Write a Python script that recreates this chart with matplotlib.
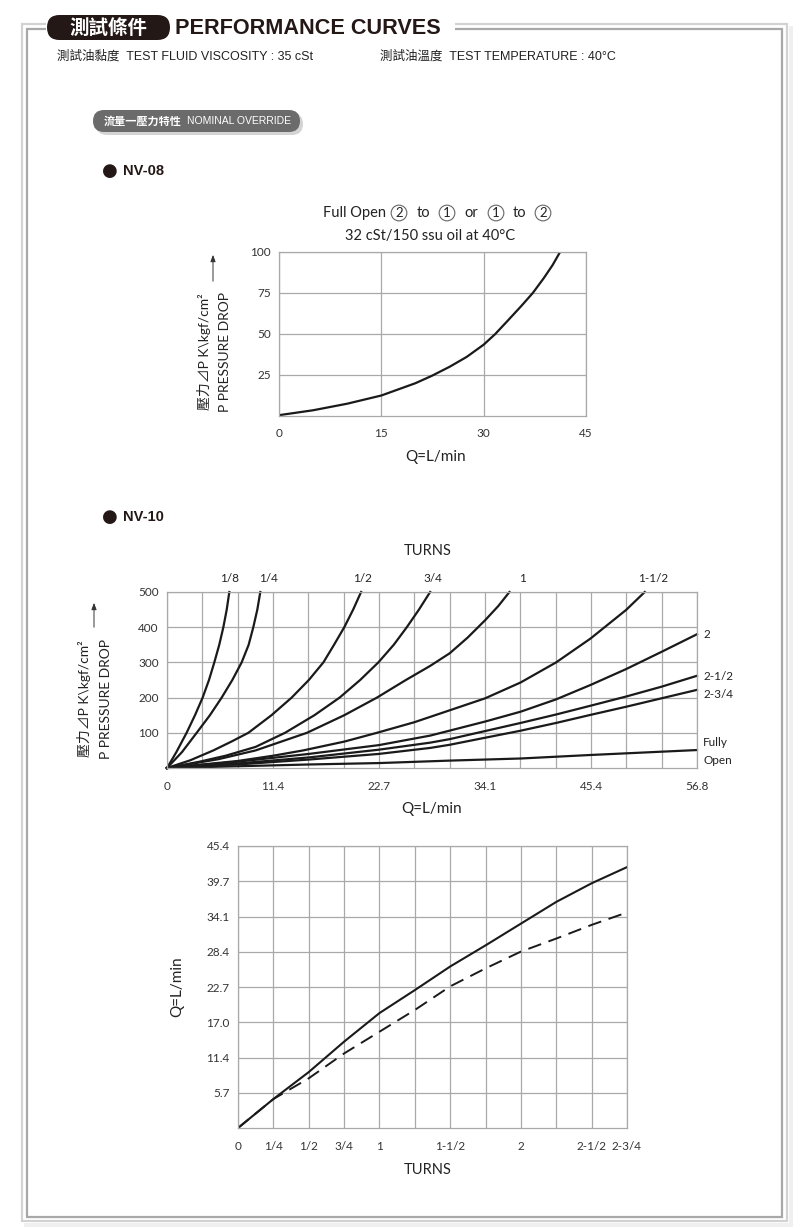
import numpy as np
import matplotlib
matplotlib.use("Agg")
import matplotlib.pyplot as plt
from matplotlib.patches import FancyBboxPatch, Rectangle

OUTPUT_IMAGE = "out.png"

# ---- NV-08 : pressure drop vs flow, full open ----
nv08_q = [0, 5, 10, 15, 20, 22.4, 25, 27.5, 30, 31.7, 33.5, 35.5, 37.2, 38.8, 40.1, 41.2]
nv08_p = [0.5, 3.5, 7.5, 12.5, 20, 24.5, 30, 36, 43.5, 50, 58, 67, 75, 84, 92, 100]
nv08_xticks = [0, 15, 30, 45]
nv08_yticks = [25, 50, 75, 100]

# ---- NV-10 : pressure drop vs flow at several turns ----
nv10_turns = ["1/8", "1/4", "1/2", "3/4", "1", "1-1/2", "2", "2-1/2", "2-3/4", "Fully Open"]
nv10_q = {
    "1/8": [0, 1.0, 2.1, 3.0, 3.82, 4.5, 5.07, 5.6, 6.04, 6.4, 6.68],
    "1/4": [0, 1.6, 3.18, 4.6, 5.86, 7.0, 8.0, 8.75, 9.25, 9.68, 10.0],
    "1/2": [0, 2.5, 4.97, 6.9, 8.72, 11.2, 13.36, 15.2, 16.76, 17.9, 19.0, 19.95, 20.8],
    "3/4": [0, 3.5, 6.3, 9.5, 12.65, 15.8, 18.5, 20.7, 22.65, 24.3, 25.7, 27.0, 28.2],
    "1": [0, 5.5, 9.5, 15.0, 19.0, 22.5, 25.6, 28.2, 30.3, 32.2, 34.1, 35.5, 36.7],
    "1-1/2": [0, 7.6, 11.4, 14.6, 19.0, 22.5, 26.5, 29.3, 34.1, 37.9, 41.7, 45.4, 49.2, 51.2],
    "2": [0, 7.6, 15.2, 22.7, 28.2, 34.1, 37.9, 41.7, 45.4, 49.2, 53.0, 56.8],
    "2-1/2": [0, 7.6, 15.2, 22.7, 28.2, 30.3, 34.1, 37.9, 41.7, 45.4, 49.2, 53.0, 56.8],
    "2-3/4": [0, 7.6, 15.2, 22.7, 28.2, 30.3, 34.1, 37.9, 41.7, 45.4, 49.2, 53.0, 56.8],
    "Fully Open": [0, 7.6, 15.2, 22.7, 30.3, 37.9, 45.4, 56.8],
}
nv10_p = {
    "1/8": [0, 45, 100, 150, 200, 250, 300, 350, 400, 450, 500],
    "1/4": [0, 45, 100, 150, 200, 250, 300, 350, 400, 450, 500],
    "1/2": [0, 22, 50, 75, 100, 150, 200, 250, 300, 350, 400, 450, 500],
    "3/4": [0, 18, 35, 60, 100, 150, 200, 250, 300, 350, 400, 450, 500],
    "1": [0, 25, 50, 100, 150, 200, 250, 290, 326, 370, 420, 460, 500],
    "1-1/2": [0, 20, 35, 50, 75, 100, 130, 155, 198, 243, 300, 368, 449, 500],
    "2": [0, 18, 40, 65, 92, 132, 160, 195, 236, 281, 330, 380],
    "2-1/2": [0, 13, 30, 52, 72, 82, 105, 128, 152, 177, 203, 231, 262],
    "2-3/4": [0, 10, 24, 40, 57, 66, 86, 106, 128, 151, 174, 198, 222],
    "Fully Open": [0, 5, 10, 14, 21, 27, 37, 51],
}
nv10_xlabels = ["0", "11.4", "22.7", "34.1", "45.4", "56.8"]
nv10_yticks = [100, 200, 300, 400, 500]

# ---- NV-10 : flow vs turns ----
turns = [0, 0.25, 0.5, 0.75, 1.0, 1.25, 1.5, 1.75, 2.0, 2.25, 2.5, 2.75]
flow_solid = [0, 4.66, 9.0, 13.9, 18.5, 22.2, 26.0, 29.4, 32.9, 36.4, 39.4, 42.0]
flow_dashed = [0, 4.66, 8.0, 12.0, 15.5, 19.0, 22.8, 25.7, 28.4, 30.5, 32.7, 34.7]
turn_ticks = [0, 0.25, 0.5, 0.75, 1.0, 1.5, 2.0, 2.5, 2.75]
turn_labels = ["0", "1/4", "1/2", "3/4", "1", "1-1/2", "2", "2-1/2", "2-3/4"]
flow_labels = ["5.7", "11.4", "17.0", "22.7", "28.4", "34.1", "39.7", "45.4"]

W, H = 800, 1228
CHART_FONT = ["Lato", "Noto Sans CJK TC", "DejaVu Sans"]
HEAD_FONT = ["Liberation Sans", "Noto Sans CJK TC", "DejaVu Sans"]
GRID = "#a9a9a9"
INK = "#222222"


def box(left, top, right, bottom):
    return [left / W, 1 - bottom / H, (right - left) / W, (bottom - top) / H]


def setup(ax, xmax, ymax, xgrid, ygrid, xticks, xlabels, yticks, ylabels):
    ax.set_xlim(0, xmax)
    ax.set_ylim(0, ymax)
    ax.set_xticks(xgrid, minor=True)
    ax.set_yticks(ygrid, minor=True)
    ax.set_xticks(xticks)
    ax.set_xticklabels(xlabels)
    ax.set_yticks(yticks)
    ax.set_yticklabels(ylabels)
    ax.grid(which="both", color=GRID, linewidth=0.9)
    ax.tick_params(which="both", length=0)
    ax.tick_params(axis="x", pad=9)
    ax.tick_params(axis="y", pad=6)
    for lab in ax.get_xticklabels() + ax.get_yticklabels():
        lab.set_family(CHART_FONT)
        lab.set_fontsize(8.5)
        lab.set_color("#333333")
    for s in ax.spines.values():
        s.set_color(GRID)
        s.set_linewidth(0.9)
    ax.set_axisbelow(True)


def main():
    fig = plt.figure(figsize=(8, 12.28), dpi=100)

    # background layer in pixel coordinates
    bg = fig.add_axes([0, 0, 1, 1])
    bg.set_xlim(0, W)
    bg.set_ylim(H, 0)
    bg.axis("off")

    # page frame
    bg.add_patch(Rectangle((22, 24), 765, 1197, fill=False, ec="#d2d2d2", lw=1.6))
    bg.add_patch(Rectangle((27, 29), 755, 1188, fill=False, ec="#a8a8a8", lw=1.6))
    bg.add_patch(Rectangle((789, 26), 4, 1198, fc="#efefef", ec="none"))
    bg.add_patch(Rectangle((24, 1223), 769, 4, fc="#efefef", ec="none"))
    bg.add_patch(Rectangle((46, 15), 409, 22, fc="white", ec="none", zorder=2))

    # header
    bg.add_patch(FancyBboxPatch((47, 15), 123, 25, boxstyle="round,pad=0,rounding_size=12.5",
                                fc="#231815", ec="none", zorder=3))
    bg.text(108, 28, "測試條件", color="white", fontsize=14, fontweight="bold",
            family=HEAD_FONT, ha="center", va="center", zorder=4)
    bg.text(175, 28, "PERFORMANCE CURVES", color="#231815", fontsize=15.6, fontweight="bold",
            family=HEAD_FONT, ha="left", va="center", zorder=4)
    bg.text(57, 56, "測試油黏度  TEST FLUID VISCOSITY : 35 cSt", fontsize=9,
            family=HEAD_FONT, ha="left", va="center", color=INK)
    bg.text(380, 56, "測試油溫度  TEST TEMPERATURE : 40°C", fontsize=9,
            family=HEAD_FONT, ha="left", va="center", color=INK)

    # sub header pill
    bg.add_patch(FancyBboxPatch((96, 113), 207, 22, boxstyle="round,pad=0,rounding_size=11",
                                fc="#d4d4d4", ec="none"))
    bg.add_patch(FancyBboxPatch((93, 110), 207, 22, boxstyle="round,pad=0,rounding_size=11",
                                fc="#6b6b6b", ec="none"))
    bg.text(104, 121, "流量一壓力特性", color="white", fontsize=8, fontweight="bold",
            family=HEAD_FONT, ha="left", va="center")
    bg.text(187, 121, "NOMINAL OVERRIDE", color="white", fontsize=7.5,
            family=HEAD_FONT, ha="left", va="center")

    # section titles
    for y, name in [(171, "NV-08"), (517, "NV-10")]:
        bg.text(110, y, "●", fontsize=13, family="DejaVu Sans", ha="center", va="center",
                color="#231815")
        bg.text(123, y, name, fontsize=10.5, fontweight="bold", family=HEAD_FONT,
                ha="left", va="center", color="#231815")

    # NV-08 title with circled port numbers
    t_kw = dict(fontsize=10.5, family=CHART_FONT, va="center", color=INK)
    c_kw = dict(fontsize=9.5, family=CHART_FONT, va="center", ha="center", color=INK,
                bbox=dict(boxstyle="circle,pad=0.14", fc="none", ec="#666666", lw=0.8))
    bg.text(386, 213, "Full Open", ha="right", **t_kw)
    bg.text(399, 213, "2", **c_kw)
    bg.text(423, 213, "to", ha="center", **t_kw)
    bg.text(447, 213, "1", **c_kw)
    bg.text(471, 213, "or", ha="center", **t_kw)
    bg.text(496, 213, "1", **c_kw)
    bg.text(519, 213, "to", ha="center", **t_kw)
    bg.text(543, 213, "2", **c_kw)
    bg.text(430, 236, "32 cSt/150 ssu oil at 40°C", ha="center", **t_kw)

    # y labels with arrows
    for x1, x2, xa, yc, ya0, ya1 in [(204, 225, 213, 352, 284, 252),
                                     (84, 106, 94, 699, 630, 600)]:
        bg.text(x1, yc, "壓力⊿P K\\kgf/cm²", rotation=90, fontsize=10, family=CHART_FONT,
                ha="center", va="center", color=INK)
        bg.text(x2, yc, "P PRESSURE DROP", rotation=90, fontsize=10, family=CHART_FONT,
                ha="center", va="center", color=INK)
        bg.annotate("", xy=(xa, ya1), xytext=(xa, ya0),
                    arrowprops=dict(arrowstyle="-|>,head_width=0.15,head_length=0.4",
                                    color="#333333", lw=0.7))

    # ---- NV-08 chart ----
    ax1 = fig.add_axes(box(279, 252, 586, 416))
    setup(ax1, 45, 100, [15, 30], [25, 50, 75], nv08_xticks,
          [str(v) for v in nv08_xticks], nv08_yticks, [str(v) for v in nv08_yticks])
    ax1.plot(nv08_q, nv08_p, color="#1a1a1a", lw=1.6, solid_joinstyle="round")
    bg.text(436, 457, "Q=L/min", fontsize=11, family=CHART_FONT, ha="center", va="center",
            color=INK)

    # ---- NV-10 pressure chart ----
    ax2 = fig.add_axes(box(167, 592, 697, 768))
    step = 56.8 / 15
    setup(ax2, 56.8, 500, np.arange(1, 15) * step, [100, 200, 300, 400],
          np.arange(0, 16, 3) * step, nv10_xlabels, nv10_yticks, [str(v) for v in nv10_yticks])
    for name in nv10_turns:
        ax2.plot(nv10_q[name], nv10_p[name], color="#1a1a1a", lw=1.6,
                 solid_joinstyle="round", clip_on=False)
    bg.text(428, 551, "TURNS", fontsize=10.5, family=CHART_FONT, ha="center", va="center",
            color=INK)
    top_pos = {"1/8": 230, "1/4": 268, "1/2": 363, "3/4": 433, "1": 522, "1-1/2": 653}
    for name, x in top_pos.items():
        bg.text(x, 579, name, fontsize=8.5, family=CHART_FONT, ha="center", va="center",
                color=INK)
    side_pos = {"2": 634, "2-1/2": 676, "2-3/4": 695, "Fully": 743, "Open": 760}
    for name, y in side_pos.items():
        bg.text(703, y, name, fontsize=8.5, family=CHART_FONT, ha="left", va="center",
                color=INK)
    bg.text(432, 809, "Q=L/min", fontsize=11, family=CHART_FONT, ha="center", va="center",
            color=INK)

    # ---- NV-10 flow vs turns chart ----
    ax3 = fig.add_axes(box(238, 846, 627, 1128))
    qstep = 45.4 / 8
    setup(ax3, 2.75, 45.4, np.arange(1, 11) * 0.25, np.arange(1, 8) * qstep,
          turn_ticks, turn_labels, np.arange(1, 9) * qstep, flow_labels)
    ax3.plot(turns, flow_solid, color="#1a1a1a", lw=1.5, solid_joinstyle="round")
    ax3.plot(turns, flow_dashed, color="#1a1a1a", lw=1.4, dashes=(7, 4))
    bg.text(177, 987, "Q=L/min", rotation=90, fontsize=11, family=CHART_FONT,
            ha="center", va="center", color=INK)
    bg.text(428, 1170, "TURNS", fontsize=10.5, family=CHART_FONT, ha="center", va="center",
            color=INK)

    fig.savefig(OUTPUT_IMAGE, dpi=100)
    print(f"Plot saved to {OUTPUT_IMAGE}")


if __name__ == "__main__":
    main()
